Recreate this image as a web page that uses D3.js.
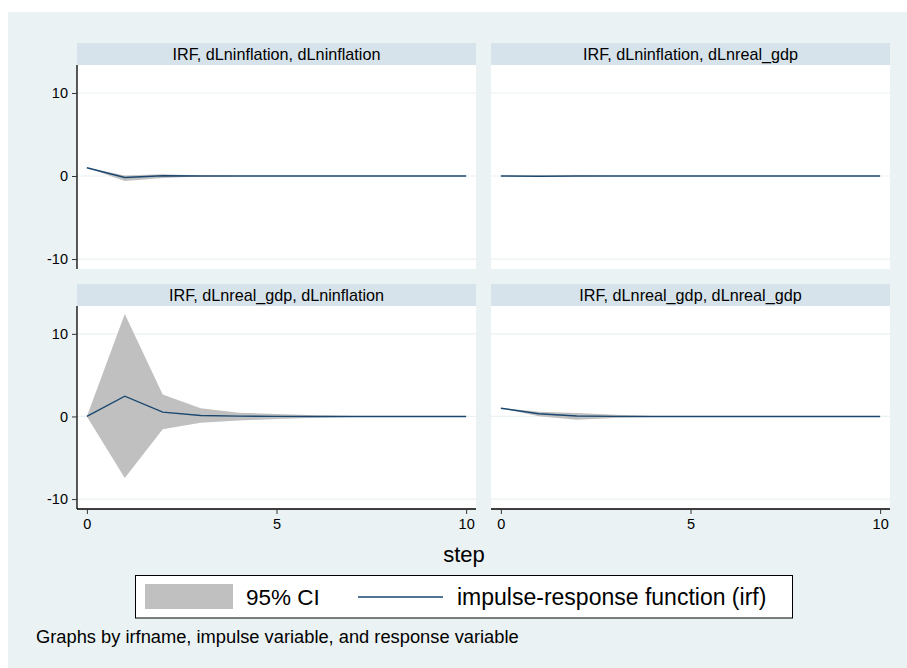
<!DOCTYPE html>
<html>
<head>
<meta charset="utf-8">
<script src="https://cdn.jsdelivr.net/npm/d3@7"></script>
<style>
body{margin:0;background:#fff;}
text{font-family:"Liberation Sans",Arial,Helvetica,sans-serif;fill:#000;}
</style>
</head>
<body>
<div id="chart"></div>
<script>
// steps of the impulse-response
let steps=[0,1,2,3,4,5,6,7,8,9,10];
let xTicks=[0,5,10];
let yTicks=[-10,0,10];

let titles=["IRF, dLninflation, dLninflation","IRF, dLninflation, dLnreal_gdp",
            "IRF, dLnreal_gdp, dLninflation","IRF, dLnreal_gdp, dLnreal_gdp"];

// irf + 95% CI, one set per panel
let irf1=[1,-0.18,0.03,0.01,0,0,0,0,0,0,0];
let lo1=[1,-0.6,-0.25,-0.05,-0.01,0,0,0,0,0,0];
let hi1=[1,0.05,0.22,0.06,0.01,0,0,0,0,0,0];

let irf2=[0,-0.03,0.01,0,0,0,0,0,0,0,0];
let lo2=[0,-0.08,-0.03,-0.01,0,0,0,0,0,0,0];
let hi2=[0,0.03,0.04,0.01,0,0,0,0,0,0,0];

let irf3=[0,2.45,0.52,0.12,0.04,0.01,0,0,0,0,0];
let lo3=[0,-7.45,-1.55,-0.76,-0.5,-0.3,-0.15,-0.06,-0.02,-0.01,0];
let hi3=[0,12.4,2.65,0.98,0.45,0.3,0.15,0.06,0.02,0.01,0];

let irf4=[1,0.33,0.05,0.01,0,0,0,0,0,0,0];
let lo4=[1,0.04,-0.4,-0.2,-0.05,-0.01,0,0,0,0,0];
let hi4=[1,0.57,0.42,0.2,0.05,0.01,0,0,0,0,0];

let irfs=[irf1,irf2,irf3,irf4];
let los=[lo1,lo2,lo3,lo4];
let his=[hi1,hi2,hi3,hi4];

let width=907, height=668;
let navy="#1a476f", ciGray="#c0c0c0", bg="#eaf2f3", strip="#d7e3ea";

let svg=d3.select("#chart").append("svg")
  .attr("width",width).attr("height",height);

svg.append("rect").attr("x",8).attr("y",12).attr("width",width-8).attr("height",height-12).attr("fill",bg);

let colX=[[77,476],[491,890]];
let rowY=[[43,65,269],[284,306,509]]; // strip top, plot top, plot bottom

titles.forEach(function(t,i){
  let c=i%2, r=Math.floor(i/2);
  let x0=colX[c][0], x1=colX[c][1];
  let sTop=rowY[r][0], pTop=rowY[r][1], pBot=rowY[r][2];

  let xscale=d3.scaleLinear().domain([-0.26,10.26]).range([x0,x1]);
  let yscale=d3.scaleLinear().domain([-11.2,13.37]).range([pBot,pTop]);

  svg.append("rect").attr("x",x0).attr("y",sTop).attr("width",x1-x0).attr("height",pTop-sTop).attr("fill",strip);
  svg.append("text").attr("x",(x0+x1)/2).attr("y",(sTop+pTop)/2+5.5)
    .attr("text-anchor","middle").style("font-size","16.2px").text(t);
  svg.append("rect").attr("x",x0).attr("y",pTop).attr("width",x1-x0).attr("height",pBot-pTop).attr("fill","#fff");

  // grid
  svg.append("g").selectAll("line").data(yTicks).enter().append("line")
    .attr("x1",x0).attr("x2",x1)
    .attr("y1",d=>yscale(d)).attr("y2",d=>yscale(d))
    .attr("stroke",bg).attr("stroke-width",1.2);

  let idx=steps.map((s,k)=>k);
  let area=d3.area().x(k=>xscale(steps[k])).y0(k=>yscale(los[i][k])).y1(k=>yscale(his[i][k]));
  svg.append("path").datum(idx).attr("d",area).attr("fill",ciGray);

  let line=d3.line().x(k=>xscale(steps[k])).y(k=>yscale(irfs[i][k]));
  svg.append("path").datum(idx).attr("d",line).attr("fill","none")
    .attr("stroke",navy).attr("stroke-width",1.4);

  if(c==0){
    let yAxis=d3.axisLeft(yscale).tickValues(yTicks).tickSize(5).tickPadding(4).tickFormat(d=>String(d));
    let g=svg.append("g").attr("transform","translate("+x0+",0)").call(yAxis);
    g.select(".domain").attr("d","M0,"+pTop+"V"+pBot).attr("stroke","#000").attr("stroke-width",1.3);
    g.selectAll(".tick line").attr("stroke","#333");
    g.selectAll(".tick text").style("font-size","14.5px").attr("font-family",null);
  }
  if(r==1){
    let xAxis=d3.axisBottom(xscale).tickValues(xTicks).tickSize(5).tickPadding(5);
    let g=svg.append("g").attr("transform","translate(0,"+pBot+")").call(xAxis);
    g.select(".domain").attr("d","M"+x0+",0H"+x1).attr("stroke","#000").attr("stroke-width",1.3);
    g.selectAll(".tick line").attr("stroke","#333");
    g.selectAll(".tick text").style("font-size","14.5px").attr("font-family",null);
  }
});

svg.append("text").attr("x",464).attr("y",562).attr("text-anchor","middle")
  .style("font-size","22px").text("step");

// legend
svg.append("rect").attr("x",135.5).attr("y",575.5).attr("width",657).attr("height",42.5)
  .attr("fill","#fff").attr("stroke","#000").attr("stroke-width",1);
svg.append("rect").attr("x",145).attr("y",584).attr("width",88).attr("height",25).attr("fill",ciGray);
svg.append("text").attr("x",246).attr("y",605).style("font-size","22.5px").text("95% CI");
svg.append("line").attr("x1",358).attr("x2",443).attr("y1",597).attr("y2",597)
  .attr("stroke",navy).attr("stroke-width",1.5);
svg.append("text").attr("x",457).attr("y",605).style("font-size","23px").text("impulse-response function (irf)");

svg.append("text").attr("x",36).attr("y",643).style("font-size","18.3px")
  .text("Graphs by irfname, impulse variable, and response variable");
</script>
</body>
</html>
